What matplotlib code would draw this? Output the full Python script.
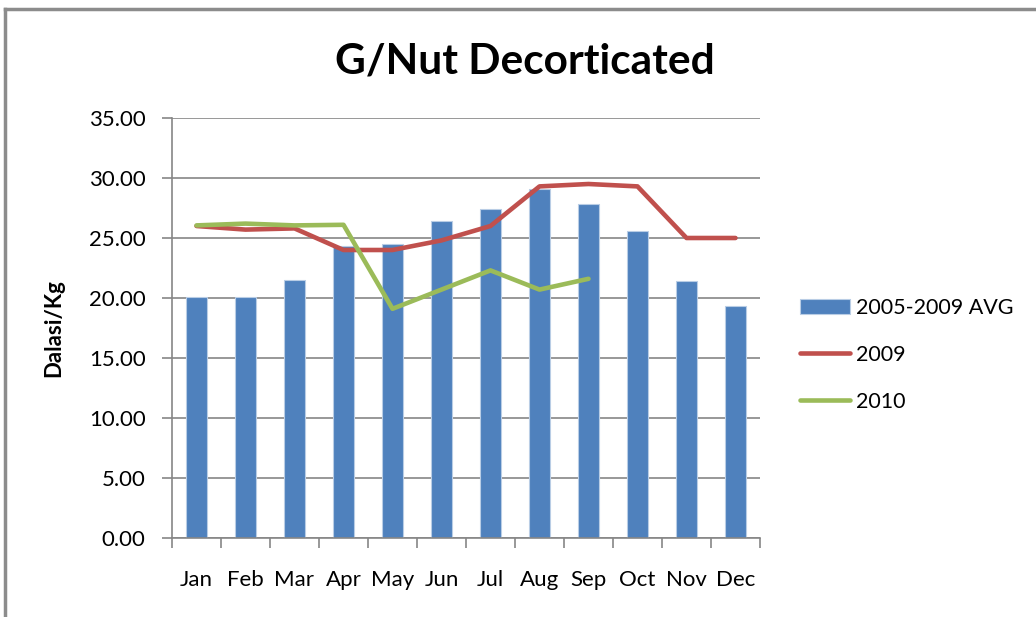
import numpy as np
import matplotlib
matplotlib.use("Agg")
import matplotlib.pyplot as plt
from matplotlib.lines import Line2D

plt.rcParams['font.family'] = ['Lato', 'DejaVu Sans']

months = ["Jan", "Feb", "Mar", "Apr", "May", "Jun", "Jul", "Aug", "Sep", "Oct", "Nov", "Dec"]
avg_0509 = [20.1, 20.1, 21.5, 24.3, 24.5, 26.4, 27.4, 29.1, 27.8, 25.6, 21.4, 19.3]
y2009 = [26.0, 25.7, 25.8, 24.0, 24.0, 24.8, 26.0, 29.3, 29.5, 29.3, 25.0, 25.0]
y2010 = [26.05, 26.2, 26.05, 26.1, 19.1, 20.7, 22.3, 20.7, 21.6]

fig = plt.figure(figsize=(10.36, 6.17), dpi=100)
ax = fig.add_axes([172/1036, 1 - 538/617, 588/1036, 420/617])

x = np.arange(len(months))
b = ax.bar(x, avg_0509, width=0.41, color="#4F81BD", edgecolor="#B9CDE5", linewidth=0.8,
           label="2005-2009 AVG", zorder=2)
l1, = ax.plot(x, y2009, color="#C0504D", lw=3.3, label="2009", zorder=3, solid_capstyle="round")
l2, = ax.plot(x[:len(y2010)], y2010, color="#9BBB59", lw=3.3, label="2010", zorder=4, solid_capstyle="round")

ax.set_xlim(-0.5, 11.5)
ax.set_ylim(0, 35)
ax.set_yticks(np.arange(0, 36, 5))
ax.set_yticklabels([f"{v:.2f}" for v in np.arange(0, 36, 5)], fontsize=16)
ax.yaxis.grid(True, color="#868686", lw=1.2, zorder=0)
ax.set_axisbelow(True)

ax.set_xticks(x)
ax.set_xticklabels(months, fontsize=16)
ax.set_xticks(np.arange(-0.5, 12, 1), minor=True)
ax.tick_params(axis="x", which="major", length=0, pad=23)
ax.tick_params(axis="x", which="minor", length=7, color="#868686", width=1.2)
ax.tick_params(axis="y", length=7, color="#868686", width=1.2, pad=12)

for s in ["top", "right"]:
    ax.spines[s].set_visible(False)
for s in ["left", "bottom"]:
    ax.spines[s].set_color("#868686")
    ax.spines[s].set_linewidth(1.2)

ax.set_ylabel("Dalasi/Kg", fontsize=16, fontweight="bold")
ax.yaxis.set_label_coords(-0.184, 0.5)

fig.text(0.507, 1 - 61/617, "G/Nut Decorticated", ha="center", va="center",
         fontsize=30.5, fontweight="bold")

ax.legend([b, l1, l2], ["2005-2009 AVG", "2009", "2010"], loc="center left",
          bbox_to_anchor=(1.043, 0.436), frameon=False, fontsize=15.5,
          handlelength=2.3, handletextpad=0.3, labelspacing=1.25, borderaxespad=0.3)

# outer chart border (cut off at right and bottom)
fig.add_artist(Line2D([5/1036, 5/1036], [0, 1 - 9/617], color="#8C8C8C", lw=2.5, transform=fig.transFigure))
fig.add_artist(Line2D([5/1036, 1], [1 - 9/617, 1 - 9/617], color="#8C8C8C", lw=2.5, transform=fig.transFigure))

fig.savefig("out.png", dpi=100)
